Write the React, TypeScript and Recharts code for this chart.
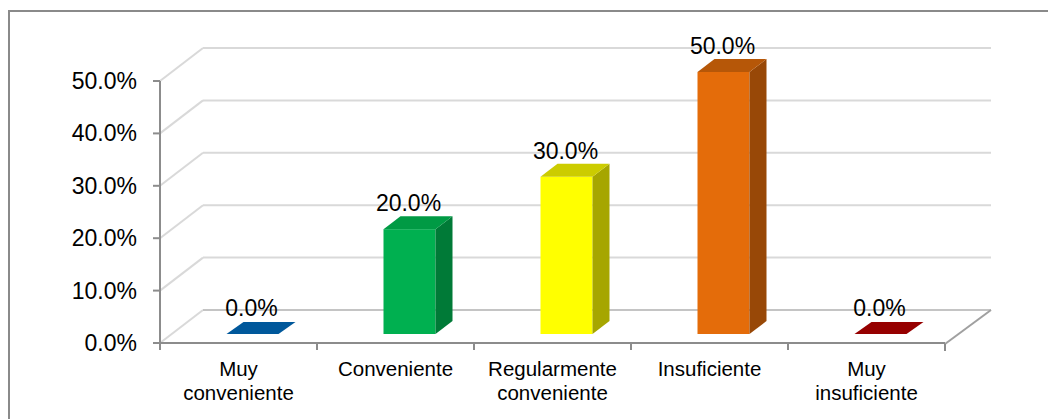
import { BarChart, Bar, XAxis, YAxis, CartesianGrid, LabelList } from "recharts";

const categories = [
  "Muy conveniente",
  "Conveniente",
  "Regularmente conveniente",
  "Insuficiente",
  "Muy insuficiente",
];
const categoryLines = [
  ["Muy", "conveniente"],
  ["Conveniente"],
  ["Regularmente", "conveniente"],
  ["Insuficiente"],
  ["Muy", "insuficiente"],
];
const values = [0, 0.2, 0.3, 0.5, 0];
const yTicks = [0, 0.1, 0.2, 0.3, 0.4, 0.5];
const title = "Manejo para el tamaño de la muestra, 2013";

const frontColors = ["#00589b", "#00b050", "#ffff00", "#e46c0a", "#960000"];
const sideColors = ["#003f70", "#007a37", "#a6a600", "#984807", "#6a0000"];
const topColors = ["#00589b", "#009a44", "#cccc00", "#b65708", "#960000"];

const data = categories.map((name, i) => ({ name, value: values[i] }));

// 3D look: depth of the walls and of the boxes
const WALL_DX_L = 43;
const WALL_DX_R = 46;
const WALL_DY = 33;
const BOX_DX = 17;
const BOX_DY = 13;
const BOX_SHIFT_X = 13.5;
const BOX_SHIFT_Y = 9;

const FONT = "'Liberation Sans', Arial, sans-serif";

function Box3D(props: any) {
  const { x, y, width, height, index } = props;
  const left = x + BOX_SHIFT_X;
  const right = left + width;
  const base = y + height - BOX_SHIFT_Y;
  const top = y - BOX_SHIFT_Y;
  if (height < 1) {
    return (
      <polygon
        points={`${left},${base} ${right},${base} ${right + BOX_DX},${base - BOX_DY + 1} ${left + BOX_DX},${base - BOX_DY + 1}`}
        fill={topColors[index]}
      />
    );
  }
  return (
    <g>
      <rect x={left} y={top} width={width} height={base - top} fill={frontColors[index]} />
      <polygon
        points={`${right},${top} ${right + BOX_DX},${top - BOX_DY} ${right + BOX_DX},${base - BOX_DY} ${right},${base}`}
        fill={sideColors[index]}
      />
      <polygon
        points={`${left},${top} ${left + BOX_DX},${top - BOX_DY} ${right + BOX_DX},${top - BOX_DY} ${right},${top}`}
        fill={topColors[index]}
      />
    </g>
  );
}

function WallLine(props: any) {
  const { x1, x2, y1, y, height } = props;
  const isFloor = Math.abs(y1 - (y + height)) < 1;
  const by = y1 - WALL_DY;
  return (
    <g key={props.key}>
      <line x1={x1} y1={y1} x2={x1 + WALL_DX_L} y2={by} stroke="#d9d9d9" strokeWidth={2} />
      <line
        x1={x1 + WALL_DX_L}
        y1={by}
        x2={x2 + WALL_DX_R}
        y2={by}
        stroke={isFloor ? "#c4c4c4" : "#d9d9d9"}
        strokeWidth={2}
      />
      {isFloor && (
        <line x1={x2} y1={y1 + 1} x2={x2 + WALL_DX_R} y2={by} stroke="#a0a0a0" strokeWidth={2} />
      )}
    </g>
  );
}

function YTick(props: any) {
  const { x, y, payload } = props;
  return (
    <g>
      <line x1={x - 7} y1={y} x2={x} y2={y} stroke="#8c8c8c" strokeWidth={2} />
      <text x={x - 23} y={y + 8} textAnchor="end" fontSize={23} fontFamily={FONT} fill="#000">
        {`${(payload.value * 100).toFixed(1)}%`}
      </text>
    </g>
  );
}

function XTick(props: any) {
  const { x, y, payload } = props;
  const half = payload.offset || 78.5;
  const lines = categoryLines[payload.index] || [payload.value];
  const isLast = payload.index === categories.length - 1;
  return (
    <g>
      <line x1={x - half} y1={y} x2={x - half} y2={y + 7} stroke="#8c8c8c" strokeWidth={2} />
      {isLast && (
        <line x1={x + half} y1={y + 1} x2={x + half} y2={y + 8} stroke="#8c8c8c" strokeWidth={2} />
      )}
      {lines.map((t: string, i: number) => (
        <text
          key={i}
          x={x}
          y={y + 33 + i * 24}
          textAnchor="middle"
          fontSize={20.5}
          fontFamily={FONT}
          fill="#000"
        >
          {t}
        </text>
      ))}
    </g>
  );
}

function BarLabel(props: any) {
  const { x, y, width, value } = props;
  return (
    <text
      x={x + BOX_SHIFT_X + width / 2 - 1}
      y={y - 27}
      textAnchor="middle"
      fontSize={23}
      fontFamily={FONT}
      fill="#000"
    >
      {`${(value * 100).toFixed(1)}%`}
    </text>
  );
}

export default function App() {
  return (
    <div style={{ position: "relative", marginTop: -8, width: 1048, height: 419, overflow: "hidden" }}>
      <div
        style={{
          position: "absolute",
          left: 0,
          top: 10,
          width: 1060,
          height: 420,
          borderTop: "2px solid #8a8a8a",
          borderLeft: "2px solid #8a8a8a",
        }}
      />
      <div style={{ position: "absolute", left: 0, top: 0 }}>
        <BarChart
          width={1048}
          height={419}
          data={data}
          margin={{ top: 81, right: 111, bottom: 16, left: 72 }}
          barSize={52}
        >
          {/* title sits above the frame and is cut by the top edge, as in the source */}
          <text
            x={522}
            y={2}
            textAnchor="middle"
            fontSize={20}
            fontWeight="bold"
            fontFamily={FONT}
            fill="#000"
          >
            {title}
          </text>
          <CartesianGrid vertical={false} horizontal={(p: any) => <WallLine {...p} />} />
          <XAxis
            dataKey="name"
            interval={0}
            height={60}
            tickSize={0}
            tickMargin={0}
            tickLine={false}
            axisLine={{ stroke: "#8c8c8c", strokeWidth: 2 }}
            tick={<XTick />}
          />
          <YAxis
            domain={[0, 0.5]}
            ticks={yTicks}
            width={80}
            tickSize={0}
            tickMargin={0}
            tickLine={false}
            axisLine={{ stroke: "#8c8c8c", strokeWidth: 2 }}
            tick={<YTick />}
          />
          <Bar dataKey="value" isAnimationActive={false} shape={(p: any) => <Box3D {...p} />}>
            <LabelList dataKey="value" content={(p: any) => <BarLabel {...p} />} />
          </Bar>
        </BarChart>
      </div>
    </div>
  );
}
